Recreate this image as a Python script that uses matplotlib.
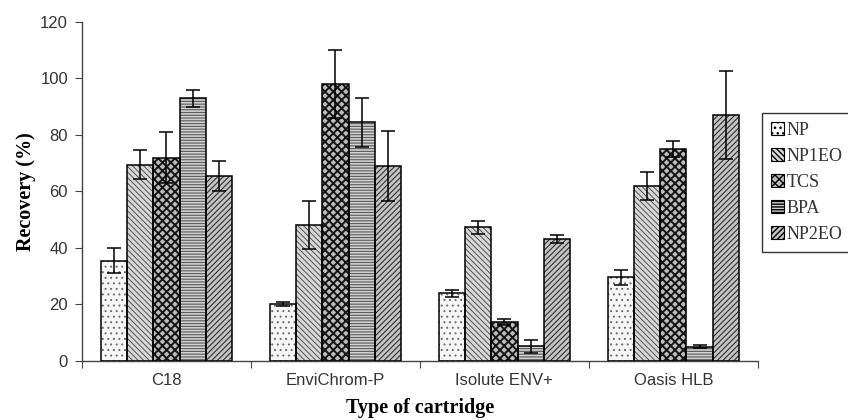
import matplotlib
matplotlib.use("Agg")
import matplotlib.pyplot as plt
import numpy as np
from matplotlib.patches import Patch

categories = ["C18", "EnviChrom-P", "Isolute ENV+", "Oasis HLB"]
series = ["NP", "NP1EO", "TCS", "BPA", "NP2EO"]
values = {
    "NP":    [35.5, 20.3, 24.0, 29.6],
    "NP1EO": [69.5, 48.0, 47.3, 61.8],
    "TCS":   [72.0, 98.0, 13.8, 75.0],
    "BPA":   [93.0, 84.5, 5.2, 5.0],
    "NP2EO": [65.5, 69.0, 43.3, 87.0],
}
errors = {
    "NP":    [4.5, 0.7, 1.2, 2.6],
    "NP1EO": [5.2, 8.5, 2.4, 5.0],
    "TCS":   [9.0, 12.0, 1.2, 2.7],
    "BPA":   [3.0, 8.7, 2.3, 0.5],
    "NP2EO": [5.3, 12.5, 1.4, 15.6],
}
yticks = [0, 20, 40, 60, 80, 100, 120]

hatches = {"NP": "...", "NP1EO": "\\\\\\\\\\\\", "TCS": "xxxx", "BPA": "------", "NP2EO": "//////"}
hcolors = {"NP": "#6a6a6a", "NP1EO": "#505050", "TCS": "#151515", "BPA": "#5a5a5a", "NP2EO": "#303030"}
fcolors = {"NP": "#f6f6f6", "NP1EO": "#d8d8d8", "TCS": "#bcbcbc", "BPA": "#d0d0d0", "NP2EO": "#c4c4c4"}
hlw = {"NP": 0.7, "NP1EO": 0.7, "TCS": 1.4, "BPA": 0.8, "NP2EO": 0.8}

fig = plt.figure(figsize=(8.48, 4.2), dpi=100)
ax = fig.add_axes([0.0967, 0.1405, 0.797, 0.8075])

x = np.arange(len(categories))
bw = 0.155
offsets = (np.arange(len(series)) - 2) * bw
for i, s in enumerate(series):
    xs = x + offsets[i]
    with plt.rc_context({"hatch.linewidth": hlw[s]}):
        bars = ax.bar(xs, values[s], bw, color=fcolors[s], edgecolor=hcolors[s], hatch=hatches[s],
                      linewidth=0, zorder=2)
    for b in bars:
        if hasattr(b, "set_hatch_linewidth"):
            b.set_hatch_linewidth(hlw[s])
    ax.bar(xs, values[s], bw, color="none", edgecolor="black", linewidth=1.1, zorder=3)
    ax.errorbar(xs, values[s], yerr=errors[s], fmt="none", ecolor="black", elinewidth=1.1,
                capsize=5, capthick=1.1, zorder=4)

ax.set_xlim(-0.5, len(categories) - 0.5)
ax.set_ylim(0, 120)
ax.set_yticks(yticks)
ax.set_xticks(np.arange(len(categories) + 1) - 0.5)
ax.set_xticklabels([])
ax.set_xticks(x, minor=True)
ax.set_xticklabels(categories, minor=True, fontfamily="Liberation Sans", fontsize=12, color="#333333")
ax.tick_params(axis="x", which="minor", length=0, pad=9)
ax.tick_params(axis="x", which="major", length=5, direction="out", color="#444444")
ax.tick_params(axis="y", length=5, direction="out", color="#444444", pad=5)
for lab in ax.get_yticklabels():
    lab.set_fontfamily("Liberation Sans")
    lab.set_fontsize(12)
    lab.set_color("#333333")
for sp in ["top", "right"]:
    ax.spines[sp].set_visible(False)
for sp in ["left", "bottom"]:
    ax.spines[sp].set_color("#444444")
    ax.spines[sp].set_linewidth(1.0)

ax.set_ylabel("Recovery (%)", fontfamily="Liberation Serif", fontweight="bold", fontsize=14.5, labelpad=3)
ax.set_xlabel("Type of cartridge", fontfamily="Liberation Serif", fontweight="bold", fontsize=14.5, labelpad=7)

handles = []
for s in series:
    p = Patch(facecolor=fcolors[s], edgecolor="black", hatch=hatches[s], linewidth=0.8, label=s)
    handles.append(p)
leg = fig.legend(handles=handles, loc="upper left", bbox_to_anchor=(0.899, 0.732),
                 prop={"family": "Liberation Serif", "size": 13}, frameon=True, fancybox=False,
                 edgecolor="black", handlelength=0.7, handleheight=0.7, handletextpad=0.15,
                 labelspacing=0.5, borderpad=0.5, borderaxespad=0, labelcolor="#333333")
leg.get_frame().set_linewidth(1.0)

fig.savefig("out.png", dpi=100)
